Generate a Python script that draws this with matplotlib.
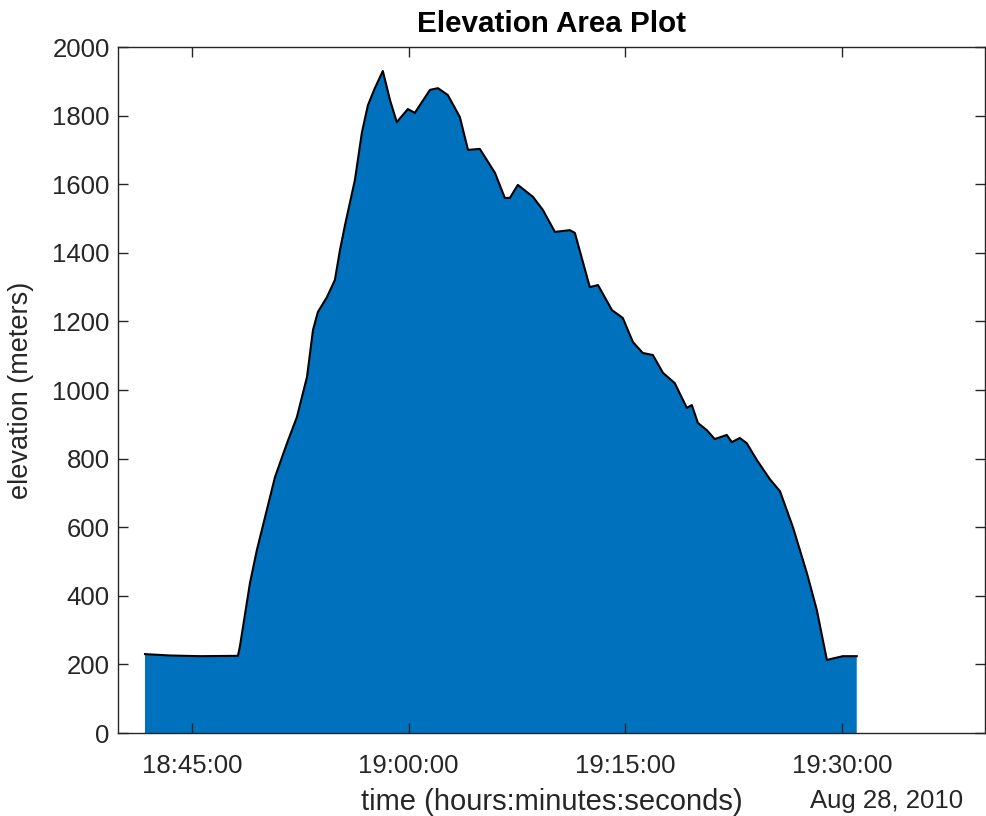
import matplotlib
matplotlib.use('Agg')
import matplotlib.pyplot as plt
import matplotlib.dates as mdates
import pandas as pd

# elevation track, Aug 28 2010
times = ['18:41:45', '18:43:29', '18:45:33', '18:48:11', '18:48:19', '18:49:01',
         '18:49:30', '18:50:11', '18:50:45', '18:51:35', '18:52:16', '18:52:58',
         '18:53:23', '18:53:43', '18:54:21', '18:54:54', '18:55:15', '18:55:36',
         '18:56:17', '18:56:46', '18:57:11', '18:57:40', '18:58:13', '18:58:43',
         '18:59:11', '18:59:57', '19:00:26', '19:01:29', '19:02:02', '19:02:43',
         '19:03:33', '19:04:07', '19:04:56', '19:05:59', '19:06:40', '19:07:01',
         '19:07:34', '19:08:37', '19:09:18', '19:10:08', '19:11:10', '19:11:31',
         '19:12:33', '19:13:07', '19:14:05', '19:14:50', '19:15:32', '19:16:13',
         '19:16:55', '19:17:37', '19:18:26', '19:19:16', '19:19:37', '19:20:02',
         '19:20:39', '19:21:12', '19:22:02', '19:22:23', '19:22:56', '19:23:25',
         '19:24:07', '19:25:01', '19:25:43', '19:26:37', '19:27:35', '19:28:16',
         '19:28:58', '19:30:04', '19:31:02']
elevation = [230, 226, 224, 225, 251, 437,
             534, 650, 746, 845, 921, 1038,
             1175, 1227, 1271, 1321, 1408, 1481,
             1612, 1750, 1830, 1880, 1930, 1845,
             1781, 1819, 1808, 1875, 1880, 1860,
             1796, 1700, 1703, 1633, 1560, 1560,
             1598, 1563, 1525, 1461, 1466, 1458,
             1300, 1306, 1233, 1210, 1140, 1108,
             1102, 1050, 1020, 948, 956, 904,
             883, 857, 869, 848, 860, 845,
             796, 740, 705, 600, 466, 359,
             213, 224, 224]
tick_times = ['18:45:00', '19:00:00', '19:15:00', '19:30:00']

day = '2010-08-28 '
t = pd.to_datetime([day + s for s in times])
ticks = pd.to_datetime([day + s for s in tick_times])

plt.rcParams['font.family'] = ['Liberation Sans', 'DejaVu Sans']
dark = '#262626'

fig = plt.figure(figsize=(9.87, 8.16), dpi=100)
ax = fig.add_axes([0.1196, 0.1017, 0.8784, 0.8407])
ax.fill_between(t, elevation, 0, facecolor='#0072BD', edgecolor='none')
ax.plot(t, elevation, color='black', linewidth=1.5)

ax.set_xlim(pd.Timestamp(day + '18:39:53'), pd.Timestamp(day + '19:39:55'))
ax.set_ylim(0, 2000)
ax.set_yticks(range(0, 2001, 200))
ax.set_xticks(ticks)
ax.xaxis.set_major_formatter(mdates.DateFormatter('%H:%M:%S'))

ax.tick_params(direction='in', length=7, width=1, colors=dark, labelsize=18.5,
               top=True, right=True)
ax.tick_params(axis='x', pad=15)
ax.tick_params(axis='y', pad=6)
for sp in ax.spines.values():
    sp.set_color(dark)
    sp.set_linewidth(1)

ax.set_title('Elevation Area Plot', fontsize=21.3, fontweight='bold', color='black', pad=11)
ax.set_ylabel('elevation (meters)', fontsize=19.5, color=dark)
ax.yaxis.set_label_coords(-0.097, 0.5)
ax.set_xlabel('time (hours:minutes:seconds)', fontsize=21, color=dark, labelpad=7)
fig.text(963 / 987, 1 - 801 / 816, 'Aug 28, 2010', fontsize=18.5, color=dark,
         ha='right', va='center')

fig.savefig('out.png', dpi=100)
